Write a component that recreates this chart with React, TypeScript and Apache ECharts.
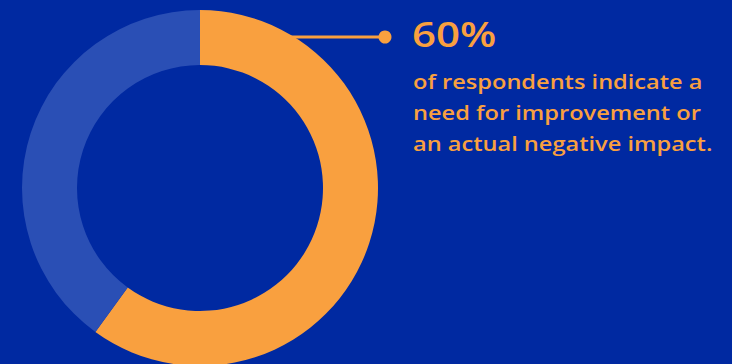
import React, { useEffect, useRef } from "react";
import * as echarts from "echarts";

const categories = ["Need for improvement / negative impact", "Other"];
const values = [60, 40];
const headline = "60%";
const captionLines = [
  "of respondents indicate a",
  "need for improvement or",
  "an actual negative impact.",
];

const ORANGE = "#F9A03F";
const LIGHT_BLUE = "#2A4FB5";
const BG = "#0029A1";

export default function App() {
  const ref = useRef<HTMLDivElement>(null);
  useEffect(() => {
    document.body.style.margin = "0";
    const chart = echarts.init(ref.current!, null, { renderer: "svg" });
    const font = "'Open Sans', sans-serif";
    chart.setOption({
      animation: false,
      backgroundColor: BG,
      series: [
        {
          type: "pie",
          center: [200, 188],
          radius: [123, 178],
          startAngle: 90,
          clockwise: true,
          label: { show: false },
          labelLine: { show: false },
          silent: true,
          itemStyle: { borderWidth: 0 },
          data: categories.map((c, i) => ({
            name: c,
            value: values[i],
            itemStyle: { color: i === 0 ? ORANGE : LIGHT_BLUE },
          })),
        },
      ],
      graphic: [
        {
          type: "line",
          shape: { x1: 290, y1: 37, x2: 385, y2: 37 },
          style: { stroke: ORANGE, lineWidth: 3 },
          z: 10,
        },
        {
          type: "circle",
          shape: { cx: 385, cy: 37, r: 6.5 },
          style: { fill: ORANGE },
          z: 10,
        },
        {
          type: "text",
          x: 412,
          y: 33.5,
          scaleX: 1.2,
          style: {
            text: headline,
            fill: ORANGE,
            font: `600 35px ${font}`,
            verticalAlign: "middle",
          },
          z: 10,
        },
        ...captionLines.map((t, i) => ({
          type: "text",
          x: 413,
          y: 81 + i * 31,
          scaleX: 1.18,
          style: {
            text: t,
            fill: ORANGE,
            font: `600 20px ${font}`,
            verticalAlign: "middle",
          },
          z: 10,
        })),
      ],
    });
    return () => chart.dispose();
  }, []);
  return <div ref={ref} style={{ width: 732, height: 364 }} />;
}
